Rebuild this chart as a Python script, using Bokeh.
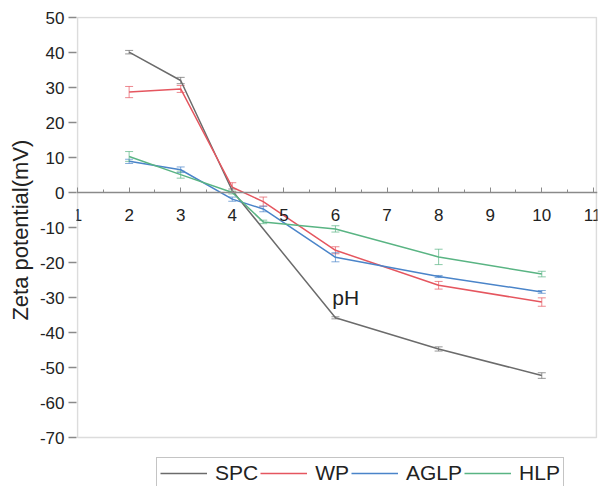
from bokeh.plotting import figure
from bokeh.models import (Range1d, FixedTicker, Whisker, ColumnDataSource, TeeHead,
                          Legend, LegendItem, Label, BoxAnnotation)
from bokeh.embed import file_html
from bokeh.resources import INLINE

# ---- data ----
ph_spc = [2, 3, 4, 6, 8, 10]
spc = [40.1, 32.0, 0.5, -35.8, -44.7, -52.3]
spc_err = [0.5, 0.9, 0.5, 0.3, 0.6, 0.8]

ph = [2, 3, 4, 4.6, 6, 8, 10]
wp = [28.7, 29.6, 1.5, -2.6, -16.5, -26.5, -31.3]
wp_err = [1.6, 1.0, 1.3, 1.3, 1.0, 1.1, 1.2]
aglp = [8.9, 6.5, -1.9, -4.7, -18.5, -24.0, -28.4]
aglp_err = [0.6, 0.8, 0.6, 0.8, 1.3, 0.3, 0.4]
hlp = [10.3, 5.1, 0.0, -8.4, -10.4, -18.4, -23.3]
hlp_err = [1.4, 1.0, 0.4, 0.5, 0.9, 2.2, 0.8]

names = ["SPC", "WP", "AGLP", "HLP"]
colors = ["#6b6b6b", "#e5565f", "#4a84c9", "#59b483"]

x_ticks = [1, 2, 3, 4, 5, 6, 7, 8, 9, 10, 11]
x_minor = [1.5, 2.5, 3.5, 4.5, 5.5, 6.5, 7.5, 8.5, 9.5, 10.5]
y_ticks = [-70, -60, -50, -40, -30, -20, -10, 0, 10, 20, 30, 40, 50]

# axis box limits
X_MIN, X_MAX = 1, 11.06
Y_MIN, Y_MAX = -70, 50

ph_label_x, ph_label_y = 5.94, -30

FONT = "Liberation Sans"
AXIS_COLOR = "#8a8a8a"
TEXT_COLOR = "#222222"

# frame extends below the axis box so that the legend (below the box) is drawn in it
p = figure(width=601, height=486,
           x_range=Range1d(X_MIN - 0.02, X_MAX + 0.02),
           y_range=Range1d(-84.0, Y_MAX + 0.29),
           output_backend="svg", toolbar_location=None,
           min_border_left=76, min_border_right=4,
           min_border_top=16, min_border_bottom=0)

p.xgrid.visible = False
p.ygrid.visible = False
p.outline_line_color = None
p.background_fill_color = "white"
p.border_fill_color = "white"

p.add_layout(BoxAnnotation(left=X_MIN, right=X_MAX, bottom=Y_MIN, top=Y_MAX,
                           fill_alpha=0, line_color=AXIS_COLOR, line_width=1.5))

# x axis crossing at y = 0
xa = p.xaxis[0]
xa.fixed_location = 0
xa.ticker = FixedTicker(ticks=x_ticks, minor_ticks=x_minor)
xa.axis_line_color = AXIS_COLOR
xa.axis_line_width = 1.5
xa.major_tick_line_color = AXIS_COLOR
xa.minor_tick_line_color = AXIS_COLOR
xa.major_tick_in = 5
xa.major_tick_out = 0
xa.minor_tick_in = 3
xa.minor_tick_out = 0
xa.major_label_standoff = 16
xa.major_label_text_font = FONT
xa.major_label_text_font_size = "17px"
xa.major_label_text_color = TEXT_COLOR

ya = p.yaxis[0]
ya.ticker = FixedTicker(ticks=y_ticks, minor_ticks=[])
ya.major_label_overrides = {t: str(t) for t in y_ticks}
ya.axis_line_color = None
ya.major_tick_line_color = AXIS_COLOR
ya.major_tick_line_width = 1.5
ya.major_tick_in = 0
ya.major_tick_out = 8
ya.minor_tick_in = 0
ya.minor_tick_out = 0
ya.major_label_standoff = 4
ya.major_label_text_font = FONT
ya.major_label_text_font_size = "17px"
ya.major_label_text_color = TEXT_COLOR
# leading non-breaking spaces lift the label to the centre of the axis box
ya.axis_label = "\u00a0" * 7 + "Zeta potential(mV)"
ya.axis_label_text_font = FONT
ya.axis_label_text_font_size = "22px"
ya.axis_label_text_font_style = "normal"
ya.axis_label_text_color = TEXT_COLOR
ya.axis_label_standoff = 4

series = [(ph_spc, spc, spc_err), (ph, wp, wp_err), (ph, aglp, aglp_err), (ph, hlp, hlp_err)]
items = []
for (xs, ys, es), name, c in zip(series, names, colors):
    src = ColumnDataSource(dict(x=xs, y=ys,
                                lo=[y - e for y, e in zip(ys, es)],
                                hi=[y + e for y, e in zip(ys, es)]))
    r = p.line("x", "y", source=src, line_color=c, line_width=1.5)
    w = Whisker(source=src, base="x", lower="lo", upper="hi", dimension="height",
                line_color=c, line_width=1, line_alpha=0.7,
                upper_head=TeeHead(size=8, line_color=c, line_width=1, line_alpha=0.7),
                lower_head=TeeHead(size=8, line_color=c, line_width=1, line_alpha=0.7))
    p.add_layout(w)
    items.append(LegendItem(label=name, renderers=[r]))

p.add_layout(Label(x=ph_label_x, y=ph_label_y, text="pH", text_font=FONT,
                   text_font_size="21px", text_color=TEXT_COLOR,
                   text_baseline="alphabetic", text_align="left"))

legend = Legend(items=items, orientation="horizontal", location=(80, -3),
                label_text_font=FONT, label_text_font_size="21px",
                label_text_color=TEXT_COLOR,
                glyph_width=47, glyph_height=20, label_standoff=8, spacing=2,
                padding=3, margin=0,
                border_line_color=AXIS_COLOR, border_line_width=1.5,
                background_fill_color="white", background_fill_alpha=1.0)
p.add_layout(legend, "center")

open("out.html", "w").write(file_html(p, INLINE))
